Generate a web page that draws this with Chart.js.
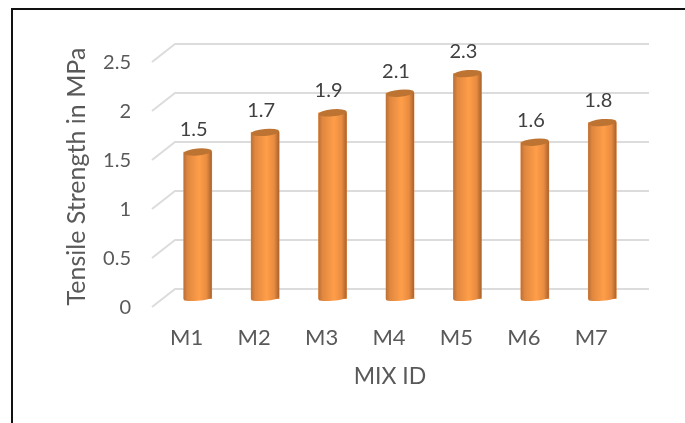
<!DOCTYPE html>
<html>
<head>
<meta charset="utf-8">
<title>Tensile Strength</title>
<script src="https://cdn.jsdelivr.net/npm/chart.js@4"></script>
<style>
    html, body { margin: 0; padding: 0; background: #fff; overflow: hidden; }
    #frame { position: absolute; left: 11px; top: 8px; width: 674px; height: 415px; border-top: 2px solid #111; border-left: 2px solid #111; }
    #wrap { position: absolute; left: 0; top: 0; width: 685px; height: 423px; }
</style>
</head>
<body>
<div id="frame"></div>
<div id="wrap"><canvas id="myChart"></canvas></div>
<script>
// chart data
const categories = ['M1', 'M2', 'M3', 'M4', 'M5', 'M6', 'M7'];
const tensileStrength = [1.5, 1.7, 1.9, 2.1, 2.3, 1.6, 1.8];
const yTickValues = [0, 0.5, 1, 1.5, 2, 2.5];

const fontFamily = 'Lato, "Open Sans", sans-serif';
const textColor = '#595959';

// floor/wall gridlines with a perspective kink at the left end
const gridPlugin = {
    id: 'perspectiveGrid',
    beforeDatasetsDraw(chart) {
        const { ctx, chartArea, scales } = chart;
        ctx.save();
        ctx.strokeStyle = '#dcdcdc';
        ctx.lineWidth = 2;
        yTickValues.forEach(v => {
            const y = scales.y.getPixelForValue(v);
            ctx.beginPath();
            ctx.moveTo(chartArea.left - 12, y + 8);
            ctx.lineTo(chartArea.left + 11, y - 10);
            ctx.lineTo(chartArea.right + 13, y - 10);
            ctx.stroke();
        });
        ctx.restore();
    }
};

// paints each bar as a shaded cylinder, then its value and the x axis caption
const cylinderPlugin = {
    id: 'cylinders',
    afterDatasetsDraw(chart) {
        const { ctx, scales } = chart;
        const tilt = -0.09;
        chart.getDatasetMeta(0).data.forEach((bar, i) => {
            const left = bar.x - bar.width / 2;
            const right = bar.x + bar.width / 2;
            const rx = bar.width / 2;

            const shade = ctx.createLinearGradient(left, 0, right, 0);
            shade.addColorStop(0, '#b9703a');
            shade.addColorStop(0.14, '#e0873f');
            shade.addColorStop(0.55, '#ff9e49');
            shade.addColorStop(0.82, '#e98c40');
            shade.addColorStop(1, '#a8622e');

            ctx.save();
            ctx.fillStyle = shade;
            ctx.beginPath();
            ctx.moveTo(left, bar.y + 1.3);
            ctx.lineTo(left, bar.base);
            ctx.ellipse(bar.x, bar.base - 0.5, rx, 2.2, tilt, Math.PI, 0, true);
            ctx.lineTo(right, bar.y - 1.3);
            ctx.closePath();
            ctx.fill();

            ctx.fillStyle = '#bd7433';
            ctx.beginPath();
            ctx.ellipse(bar.x, bar.y, rx, 3.5, tilt, 0, Math.PI * 2);
            ctx.fill();
            ctx.restore();

            ctx.save();
            ctx.fillStyle = '#404040';
            ctx.font = '20px ' + fontFamily;
            ctx.textAlign = 'center';
            ctx.textBaseline = 'middle';
            ctx.fillText(String(tensileStrength[i]), bar.x - 4, bar.y - 22);
            ctx.restore();
        });

        ctx.save();
        ctx.fillStyle = textColor;
        ctx.font = '23px ' + fontFamily;
        ctx.textAlign = 'center';
        ctx.textBaseline = 'middle';
        ctx.fillText('MIX ID', (scales.x.left + scales.x.right) / 2 - 10, 377);
        ctx.restore();
    }
};

let ctx = document.getElementById('myChart').getContext('2d');
let myChart = new Chart(ctx, {
    type: 'bar',
    data: {
        labels: categories,
        datasets: [{
            label: 'Tensile Strength in MPa',
            data: tensileStrength,
            backgroundColor: '#ed8f42',
            barThickness: 28
        }]
    },
    options: {
        responsive: true,
        maintainAspectRatio: false,
        animation: false,
        layout: {
            padding: { left: 62, right: 49, top: 54, bottom: 40 }
        },
        plugins: {
            legend: { display: false },
            tooltip: { enabled: false }
        },
        scales: {
            x: {
                border: { display: false },
                grid: { display: false, drawTicks: false },
                ticks: {
                    color: textColor,
                    font: { family: fontFamily, size: 22 },
                    padding: 26,
                    labelOffset: -11,
                    maxRotation: 0
                },
                afterFit(scale) { scale.height = 84; }
            },
            y: {
                min: 0,
                max: 2.5,
                border: { display: false },
                grid: { display: false, drawTicks: false },
                ticks: {
                    stepSize: 0.5,
                    color: textColor,
                    font: { family: fontFamily, size: 20 },
                    padding: 33,
                    labelOffset: 9,
                    callback: value => String(value)
                },
                title: {
                    display: true,
                    text: 'Tensile Strength in MPa',
                    color: textColor,
                    font: { family: fontFamily, size: 25 },
                    padding: 0
                },
                afterFit(scale) { scale.width = 102; }
            }
        }
    },
    plugins: [gridPlugin, cylinderPlugin]
});
</script>
</body>
</html>
